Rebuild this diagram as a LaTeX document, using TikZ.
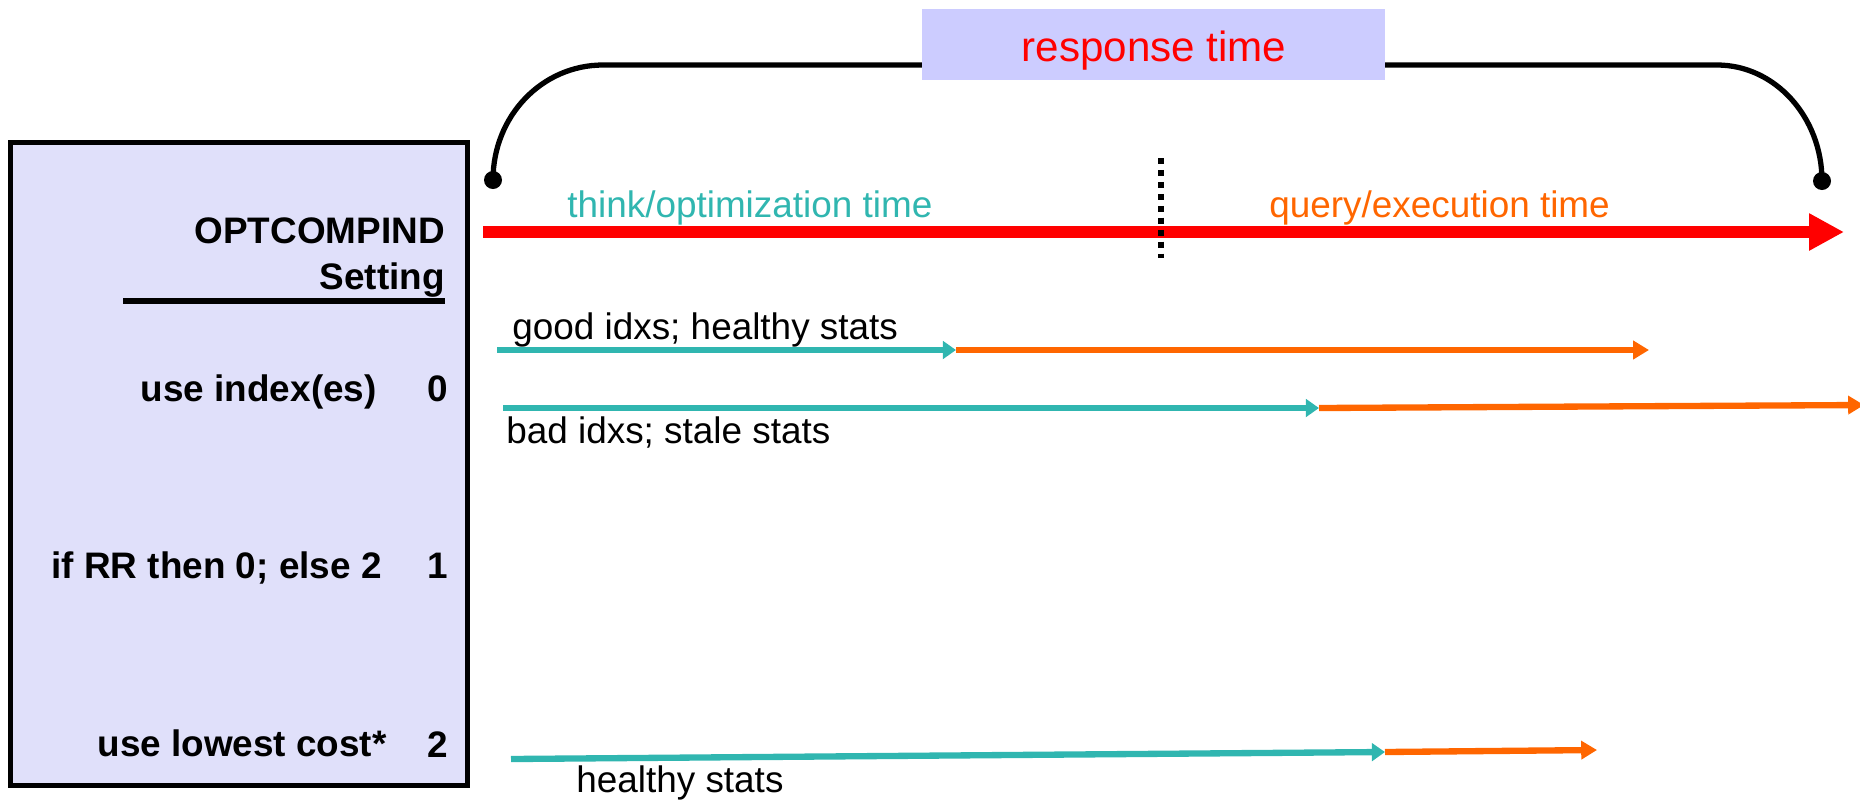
\documentclass[tikz,border=0pt]{standalone}
\usepackage{fontspec}
\setmainfont{Liberation Sans}
\usetikzlibrary{arrows.meta}
\definecolor{thinkc}{HTML}{30B6B0}
\definecolor{queryc}{HTML}{FF6600}
\definecolor{boxc}{HTML}{E0E0FA}
\definecolor{respc}{HTML}{CCCCFF}

\begin{document}
\begin{tikzpicture}[x=0.02cm,y=-0.02cm,
    thinkarrow/.style={draw=thinkc,line width=3.6pt,-{Triangle[length=7.5pt,width=10pt]}},
    queryarrow/.style={draw=queryc,line width=3.6pt,-{Triangle[length=9pt,width=10.2pt]}},
    bracket/.style={draw=black,line width=3pt},
    txt/.style={inner sep=0,font=\fontsize{21}{25}\selectfont}]
\useasboundingbox (0,0) rectangle (1860,799);

\node[draw,fill=boxc,line width=2.8pt,inner sep=0,minimum width=9.15cm,minimum height=12.86cm] (setbox) at (238.75,464) {};

\begin{scope}[every node/.style={txt,anchor=base east,font=\fontsize{21}{25}\selectfont\bfseries}]
    \node (opt) at (445,243) {OPTCOMPIND};
    \node (set) at (445,289) {Setting};
    \node (use0) at (377,401) {use index(es)};
    \node (val0) at (448,401) {0};
    \node (use1) at (382,578) {if RR then 0; else 2};
    \node (val1) at (448,578) {1};
    \node (use2) at (387,756) {use lowest cost*};
    \node (val2) at (448,757) {2};
\end{scope}
\draw[line width=3pt] (123,301) -- (445,301);

\coordinate (ldot) at (493,180);
\coordinate (rdot) at (1822,181);
\draw[bracket] (ldot) .. controls (493,116) and (542,65) .. (603,65) -- (1717,65)
    .. controls (1775,65) and (1822,117) .. (rdot);
\fill (ldot) circle (0.18cm);
\fill (rdot) circle (0.18cm);

\node[fill=respc,inner sep=0,minimum width=9.26cm,minimum height=1.42cm] (resp) at (1153.5,44.5) {};
\node[txt,anchor=base,red,font=\fontsize{24}{28}\selectfont] (resptext) at (1154,61) {response time};

\coordinate (r0) at (483,232);
\coordinate (r1) at (1844,232);
\draw[red,line width=6.8pt,-{Triangle[length=19.9pt,width=19.9pt]}] (r0) -- (r1);
\draw[line width=3.4pt,dash pattern=on 3.4pt off 3.4pt] (1161,158) -- (1161,258);

\begin{scope}[every node/.style={txt,anchor=base west}]
    \node[thinkc] (think) at (567,217) {think/optimization time};
    \node[queryc] (query) at (1269,217) {query/execution time};
    \node (good) at (512,339) {good idxs; healthy stats};
    \node (bad) at (506,443) {bad idxs; stale stats};
    \node (healthy) at (576,792) {healthy stats};
\end{scope}

\coordinate (a0) at (497,350);
\coordinate (a1) at (956,350);
\coordinate (a2) at (1649,350);
\coordinate (b0) at (503,408);
\coordinate (b1) at (1319,408);
\coordinate (b2) at (1864,405);
\coordinate (c0) at (511,759);
\coordinate (c1) at (1385,752);
\coordinate (c2) at (1597,750);

\draw[thinkarrow] (a0) -- (a1);
\draw[queryarrow] (a1) -- (a2);
\draw[thinkarrow] (b0) -- (b1);
\draw[queryarrow] (b1) -- (b2);
\draw[thinkarrow] (c0) -- (c1);
\draw[queryarrow] (c1) -- (c2);
\end{tikzpicture}
\end{document}
